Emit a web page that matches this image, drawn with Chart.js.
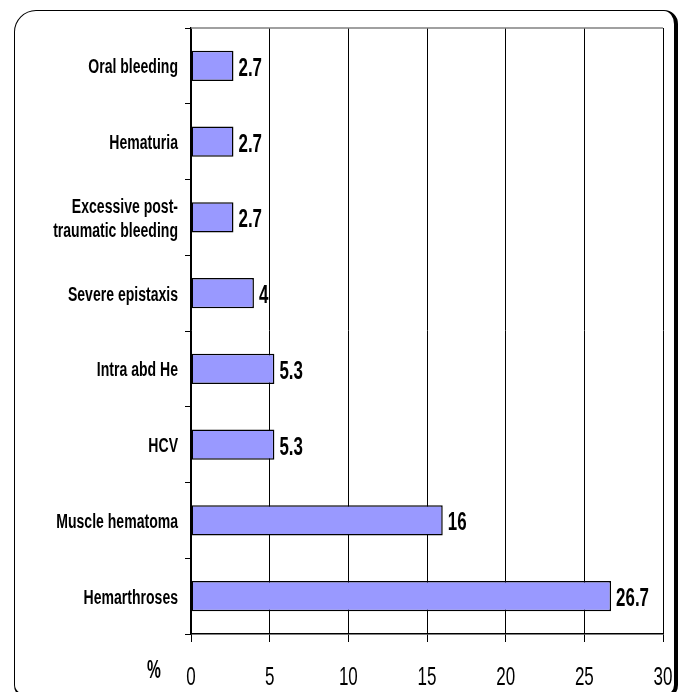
<!DOCTYPE html>
<html>
<head>
<meta charset="utf-8">
<script src="https://cdn.jsdelivr.net/npm/chart.js@4.4.0/dist/chart.umd.min.js"></script>
<style>
  html, body { margin: 0; padding: 0; background: #fff; }
  #wrap { position: relative; width: 684px; height: 692px; overflow: hidden; }
  #frame {
    position: absolute; left: 14px; top: 10px; width: 659px; height: 684px;
    border-left: 1.5px solid #000; border-top: 1.5px solid #000;
    border-right: 4px solid #000; border-bottom: 4px solid #000;
    border-radius: 22px 14px 14px 14px;
  }
  canvas { position: absolute; left: 0; top: 0; }
</style>
</head>
<body>
<div id="wrap">
  <div id="frame"></div>
  <canvas id="chart" width="684" height="692"></canvas>
</div>
<script>
// --- data ---
const categories = [
  'Oral bleeding',
  'Hematuria',
  ['Excessive post-', 'traumatic bleeding'],
  'Severe epistaxis',
  'Intra abd He',
  'HCV',
  'Muscle hematoma',
  'Hemarthroses'
];
const percentages = [2.7, 2.7, 2.7, 4, 5.3, 5.3, 16, 26.7];
const xTicks = [0, 5, 10, 15, 20, 25, 30];
const axisUnit = '%';

const FONT = "'Liberation Sans', Arial, sans-serif";

// the original uses a tall narrow face, fake it by squashing sideways
function narrowText(ctx, text, x, y, align, sx) {
  ctx.save();
  ctx.translate(x, y);
  ctx.scale(sx, 1);
  ctx.textAlign = align;
  ctx.fillText(text, 0, 0);
  ctx.restore();
}

// tick labels, value labels, top frame line and the % sign
const extras = {
  id: 'extras',
  afterDraw(chart) {
    const ctx = chart.ctx;
    const area = chart.chartArea;
    const xs = chart.scales.x, ys = chart.scales.y;
    ctx.save();
    ctx.strokeStyle = '#808080';
    ctx.lineWidth = 1.5;
    ctx.beginPath();
    ctx.moveTo(area.left, area.top);
    ctx.lineTo(area.right, area.top);
    ctx.stroke();

    ctx.fillStyle = '#000';
    ctx.textBaseline = 'alphabetic';

    // category labels
    ctx.font = 'bold 19.5px ' + FONT;
    categories.forEach((lab, i) => {
      const y = ys.getPixelForTick(i);
      const lines = Array.isArray(lab) ? lab : [lab];
      lines.forEach((ln, k) => {
        const base = y + 7.5 + (k - (lines.length - 1) / 2) * 24;
        narrowText(ctx, ln, area.left - 13, base, 'right', 0.72);
      });
    });

    // x tick labels
    ctx.font = '25px ' + FONT;
    xTicks.forEach(v => {
      narrowText(ctx, String(v), xs.getPixelForValue(v), 685, 'center', 0.68);
    });

    // value labels
    ctx.font = 'bold 26px ' + FONT;
    chart.getDatasetMeta(0).data.forEach((bar, i) => {
      narrowText(ctx, String(percentages[i]), bar.x + 5, bar.y + 10, 'left', 0.65);
    });

    ctx.font = 'bold 26px ' + FONT;
    narrowText(ctx, axisUnit, 154, 678, 'center', 0.6);
    ctx.restore();
  }
};

new Chart(document.getElementById('chart'), {
  type: 'bar',
  data: {
    labels: categories,
    datasets: [{
      data: percentages,
      backgroundColor: '#9999FF',
      borderColor: '#000',
      borderWidth: 1.5,
      borderSkipped: false,
      barPercentage: 0.4,
      categoryPercentage: 1
    }]
  },
  options: {
    indexAxis: 'y',
    responsive: false,
    animation: false,
    layout: { padding: { top: 28, right: 21, left: 0, bottom: 0 } },
    plugins: { legend: { display: false }, tooltip: { enabled: false } },
    scales: {
      x: {
        min: 0, max: 30,
        afterBuildTicks: s => { s.ticks = xTicks.map(v => ({ value: v })); },
        afterFit: s => { s.height = 58; },
        grid: { color: '#000', lineWidth: 1, tickLength: 8 },
        border: { color: '#000', width: 1.5 },
        ticks: { color: 'rgba(0,0,0,0)', font: { family: FONT, size: 17 }, padding: 10 }
      },
      y: {
        afterFit: s => { s.width = 191; },
        grid: { drawOnChartArea: false, color: '#000', tickLength: 6, offset: true },
        border: { color: '#000', width: 1.5 },
        ticks: { color: 'rgba(0,0,0,0)', font: { family: FONT, size: 14, weight: 'bold' }, padding: 8 }
      }
    }
  },
  plugins: [extras]
});
</script>
</body>
</html>
